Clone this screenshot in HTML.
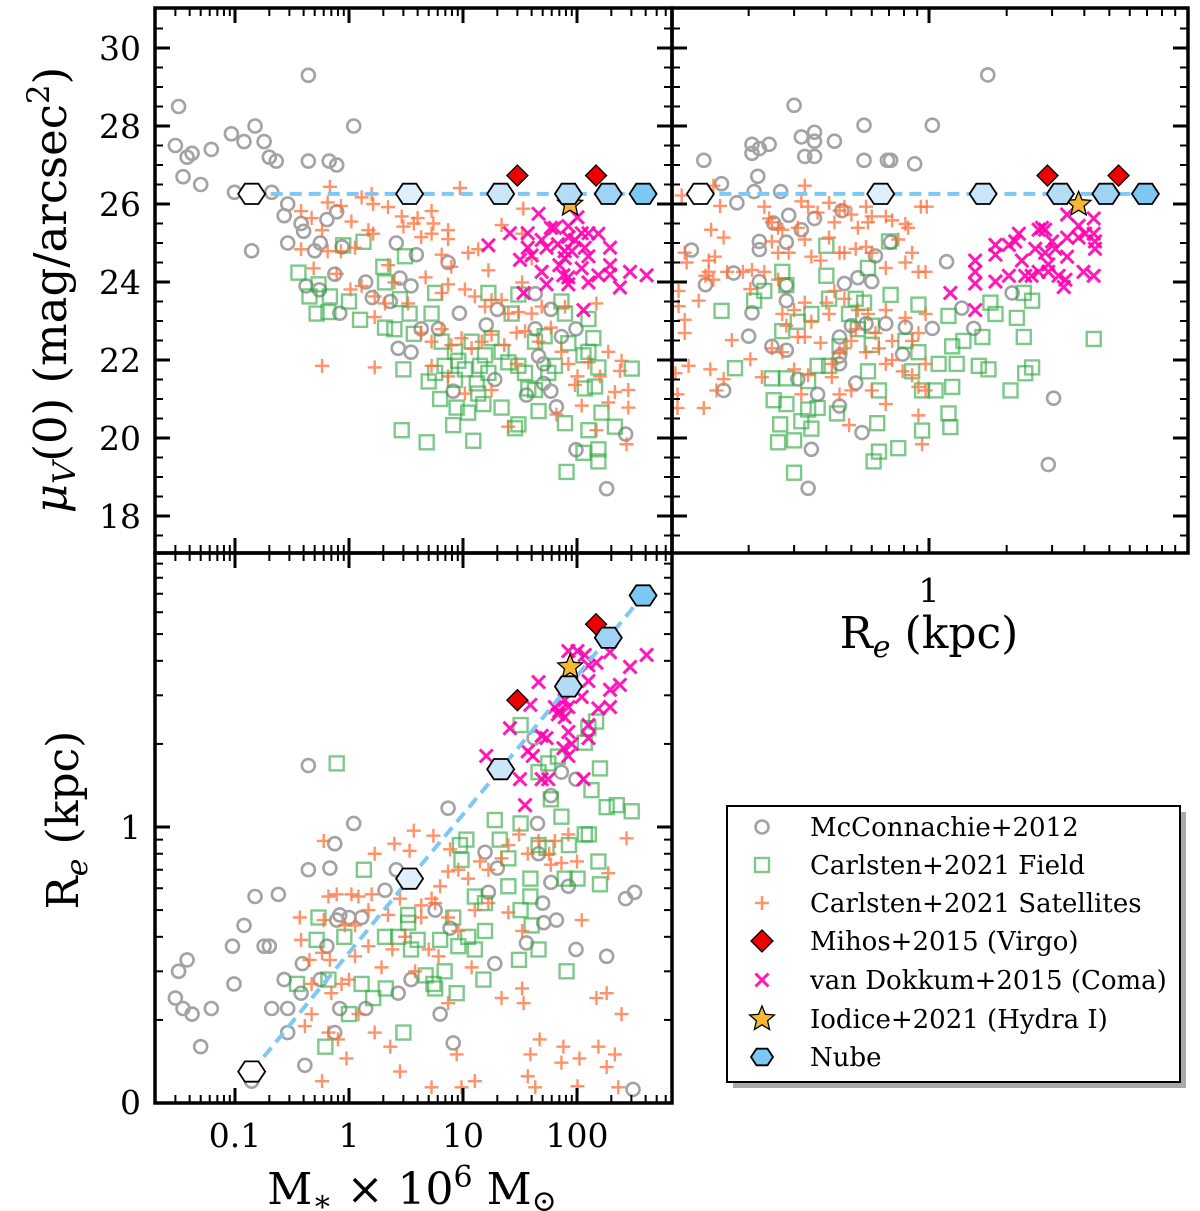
<!DOCTYPE html>
<html><head><meta charset="utf-8"><style>
html,body{margin:0;padding:0;background:#fff;}
svg{display:block;font-family:"DejaVu Serif","Liberation Serif",serif;}
</style></head><body>
<svg id="fig" width="1200" height="1211" viewBox="0 0 1200 1211" xmlns="http://www.w3.org/2000/svg">
<defs>
<clipPath id="clipA"><rect x="155" y="8" width="517" height="545"/></clipPath>
<clipPath id="clipB"><rect x="672" y="8" width="516" height="545"/></clipPath>
<clipPath id="clipC"><rect x="155" y="553" width="517" height="550"/></clipPath>
</defs>
<rect x="0" y="0" width="1200" height="1211" fill="#fff"/>
<g id="gA" clip-path="url(#clipA)"></g>
<g id="gB" clip-path="url(#clipB)"></g>
<g id="gC" clip-path="url(#clipC)"></g>
<g id="ticks"></g>
<g id="labels" font-size="33" fill="#000"></g>
<rect x="155" y="8" width="517" height="545" fill="none" stroke="#000" stroke-width="3.5"/>
<rect x="672" y="8" width="516" height="545" fill="none" stroke="#000" stroke-width="3.5"/>
<rect x="155" y="553" width="517" height="550" fill="none" stroke="#000" stroke-width="3.5"/>
<text transform="translate(66,290) rotate(-90)" text-anchor="middle" font-size="45"><tspan font-style="italic">μ</tspan><tspan font-style="italic" font-size="31" dy="9">V</tspan><tspan dy="-9">(0) (mag/arcsec</tspan><tspan font-size="31" dy="-17">2</tspan><tspan dy="17">)</tspan></text>
<text transform="translate(78,820) rotate(-90)" text-anchor="middle" font-size="44">R<tspan font-style="italic" font-size="30" dy="9">e</tspan><tspan dy="-9"> (kpc)</tspan></text>
<text x="929" y="648" text-anchor="middle" font-size="44">R<tspan font-style="italic" font-size="30" dy="9">e</tspan><tspan dy="-9"> (kpc)</tspan></text>
<text x="412" y="1204" text-anchor="middle" font-size="44">M<tspan font-size="30" dy="7">∗</tspan><tspan dy="-7"> × 10</tspan><tspan font-size="30" dy="-17">6</tspan><tspan dy="17"> M</tspan><tspan font-size="30" dy="7">⊙</tspan></text>
<g id="legend">
<rect x="733" y="812" width="453" height="276" fill="#aaa"/>
<rect x="727" y="806" width="453" height="276" fill="#fff" stroke="#000" stroke-width="2"/>
<g font-size="26">
<text x="810" y="836">McConnachie+2012</text>
<text x="810" y="874">Carlsten+2021 Field</text>
<text x="810" y="912">Carlsten+2021 Satellites</text>
<text x="810" y="950">Mihos+2015 (Virgo)</text>
<text x="810" y="989">van Dokkum+2015 (Coma)</text>
<text x="810" y="1028">Iodice+2021 (Hydra I)</text>
<text x="810" y="1066">Nube</text>
</g>
<g id="legMarks"></g>
</g>
</svg>
<script>
// ===== DATA =====
// Panel A: stellar mass (1e6 Msun) vs mu_V(0)
const mccMassA=[0.44,0.032,0.15,1.1,0.030,0.093,0.12,0.18,0.038,0.042,0.062,0.20,0.23,0.44,0.67,0.78,0.035,0.050,0.099,0.21,0.29,0.27,0.78,0.38,0.40,0.64,0.29,0.14,0.56,0.50,0.87,2.6,3.9,7.4,0.75,0.42,0.55,1.4,2.8,3.5,1.6,2.3,0.83,9.3,16,20,43,59,98,43,4.3,6.1,2.7,3.5,46,51,73,19,8.2,36,51,59,66,98,267,182];
const mccMuA=[29.3,28.5,28.0,28.0,27.5,27.8,27.6,27.6,27.2,27.3,27.4,27.2,27.1,27.1,27.1,27.0,26.7,26.5,26.3,26.3,26.0,25.7,25.8,25.5,25.3,25.6,25.0,24.8,25.0,24.8,24.9,25.0,24.7,24.5,24.2,23.9,23.8,24.0,24.1,23.9,23.6,23.5,23.2,23.2,22.9,23.3,23.7,23.3,22.8,22.8,22.8,22.8,22.3,22.2,22.1,21.9,22.6,21.5,21.2,21.1,21.4,21.2,20.8,19.7,20.1,18.7];
const fieldMassA=[0.36,0.54,0.45,0.68,0.52,0.66,1.0,1.25,0.89,1.34,2.0,3.1,2.07,2.07,2.5,2.8,3.4,3.7,3.0,2.9,4.8,6.3,8.2,8.8,11.1,12.3,15.1,21.8,30.6,28.6,5.0,5.7,6.9,8.5,9.1,10.4,13.2,14.1,15.6,16.7,21.8,25,30.6,35,37.4,42.8,46,56,64,78.5,81,114,126,154,154,164,215,302,117,126,139,154,126,73,78.5,5.7,5.3,6.5,8.5,11.9,17.8,26.7,42.8,52,84,114,144,30.6,16.7,13.6];
const fieldMuA=[24.24,23.94,23.63,23.63,23.19,23.23,23.5,23.03,24.94,25.03,24.39,24.66,23.99,22.83,22.79,23.56,23.19,22.67,21.76,20.2,19.89,21.0,20.33,20.78,20.65,19.93,20.87,20.78,20.35,20.25,21.45,21.67,21.85,21.49,21.98,21.76,21.4,21.85,22.12,23.72,22.21,21.94,23.68,21.67,21.27,21.23,20.69,21.67,21.85,20.38,19.13,19.62,20.2,19.71,19.4,20.65,20.29,21.78,21.27,22.21,22.56,21.81,23.05,23.5,23.19,23.72,23.19,22.47,22.21,22.47,22.56,23.19,22.47,22.61,22.43,22.12,21.32,21.85,21.67,21.14];
const satMassA=[0.68,1.58,9.4,0.38,0.47,0.58,0.65,0.85,1.05,1.29,1.63,2.2,2.9,4.0,5.3,5.5,7.4,7.4,0.38,0.49,0.65,0.85,1.13,1.48,1.63,2.2,3.0,3.7,4.3,5.3,6.5,7.9,11.1,13.6,16.7,21.8,33.8,33,40,33,0.78,1.03,1.29,1.68,2.07,2.5,3.3,4.7,6.5,7.4,10.4,12.7,15.6,17.8,21.8,25,30.6,40,49,78.5,148,1.68,0.58,1.68,4.3,5.3,6.5,7.9,9.7,11.9,14.6,17.8,23,29.5,35,46,59,73,84,101,126,159,188,246,238,215,282,282,188,110,66,25,5.3,7.4,10.4,17.8,29.5,148,272,96];
const satMuA=[26.44,26.26,26.41,25.82,25.64,25.33,26.04,25.95,25.55,26.17,26.0,25.92,25.68,25.64,25.82,25.5,25.33,25.1,24.84,24.35,24.79,24.79,24.88,25.33,25.24,24.43,25.42,25.5,25.15,25.24,24.7,24.39,24.75,24.84,24.3,25.46,25.88,25.24,24.61,23.99,24.21,23.81,23.9,23.63,23.45,23.99,23.45,24.12,23.72,23.94,23.81,23.63,23.37,23.54,23.54,23.19,23.23,23.19,23.37,23.37,23.45,23.1,21.85,21.81,22.7,22.47,22.79,22.38,22.56,22.3,22.47,22.65,22.38,22.7,22.74,22.47,22.83,22.21,21.9,21.58,21.94,21.58,22.21,21.98,21.72,21.18,21.23,20.78,20.91,20.83,20.6,20.29,21.85,21.58,21.14,21.23,21.9,20.2,19.84,21.36];
const comaMassA=[16.7,25.8,37,46,59,64,84,101,110,126,154,195,37,31.6,40,49,54,68,84,96,117,126,49,54,70,78,84,84,110,126,154,195,195,238,292,408,76,114,34,90,78];
const comaMuA=[24.94,25.25,25.25,25.75,25.39,25.39,25.43,25.66,25.25,25.25,25.24,24.88,24.88,24.57,24.68,25.08,24.88,24.97,25.15,25.08,24.88,24.66,24.26,23.94,24.43,24.61,24.12,23.94,24.35,23.99,24.17,24.43,24.19,23.86,24.26,24.17,24.17,23.28,23.72,24.79,24.79];
// Panel B: effective radius (kpc) vs mu_V(0)
const mccReB=[1.69,0.30,0.56,1.03,0.32,0.36,0.36,0.43,0.206,0.22,0.24,0.206,0.33,0.36,0.56,0.69,0.71,0.88,0.134,0.217,0.157,0.21,0.266,0.18,0.286,0.36,0.25,0.46,0.32,0.22,0.28,0.71,0.12,0.22,0.62,1.17,0.175,0.136,0.22,0.28,0.53,0.47,0.60,2.1,1.34,1.03,1.49,0.206,0.28,0.20,0.246,0.28,0.45,0.79,0.45,0.50,0.57,0.68,0.31,0.37,0.52,0.16,0.45,0.55,0.35,0.34,3.04,2.9,0.45,0.81];
const mccMuB=[29.31,28.53,28.02,28.02,27.72,27.84,27.61,27.61,27.53,27.42,27.53,27.3,27.22,27.22,27.12,27.12,27.12,27.03,27.12,26.71,26.52,26.32,26.32,26.03,25.71,25.63,25.51,25.83,25.34,25.04,25.02,25.02,24.82,24.83,24.67,24.52,24.23,23.93,24.01,23.92,24.11,23.96,24.01,23.72,23.33,22.81,22.81,23.21,23.52,22.61,22.35,22.25,22.59,22.15,21.9,22.88,22.93,22.93,21.51,21.12,21.41,21.22,20.82,20.14,19.71,18.71,21.02,19.32,22.1,22.84];
const fieldReB=[0.157,0.177,0.21,0.23,0.27,0.28,0.40,0.40,0.41,0.35,0.31,0.27,0.246,0.28,0.25,0.28,0.265,0.26,0.30,0.30,0.32,0.35,0.34,0.37,0.34,0.37,0.41,0.44,0.45,0.49,0.53,0.56,0.60,0.60,0.58,0.64,0.63,0.64,0.61,0.76,0.86,0.91,0.81,0.91,0.94,1.06,0.94,1.09,1.19,1.23,1.23,1.19,1.21,1.28,1.36,1.56,1.61,1.70,1.73,1.81,2.07,2.19,2.33,2.51,2.33,2.36,2.51,4.35,0.70,0.71,0.58,0.52];
const fieldMuB=[23.26,21.79,23.52,23.77,24.26,23.92,24.93,24.16,23.57,23.18,22.98,22.74,21.53,21.53,20.97,20.87,20.35,19.89,19.94,19.11,20.43,20.24,20.73,20.77,21.46,21.85,21.85,20.63,22.35,23.18,22.79,23.47,22.88,22.39,21.71,21.22,20.38,19.65,19.4,19.74,21.71,23.42,22.49,22.2,21.22,21.22,20.19,21.9,23.13,22.35,21.31,20.63,20.28,21.9,22.49,21.85,22.59,21.76,23.47,23.18,21.22,23.08,23.72,23.52,22.59,21.66,21.81,22.54,25.04,23.67,24.36,23.57];
const satReB=[0.11,0.146,0.155,0.143,0.16,0.113,0.14,0.148,0.115,0.14,0.165,0.146,0.136,0.107,0.128,0.107,0.113,0.113,0.104,0.117,0.142,0.16,0.15,0.134,0.106,0.106,0.172,0.203,0.206,0.225,0.23,0.24,0.246,0.26,0.27,0.31,0.33,0.32,0.34,0.37,0.41,0.43,0.45,0.47,0.50,0.53,0.57,0.58,0.60,0.68,0.72,0.81,0.83,0.93,0.98,0.246,0.26,0.286,0.33,0.35,0.38,0.41,0.45,0.47,0.52,0.57,0.60,0.68,0.76,0.81,0.86,0.91,0.97,0.19,0.203,0.23,0.26,0.27,0.30,0.33,0.35,0.40,0.41,0.43,0.47,0.52,0.53,0.58,0.62,0.68,0.72,0.81,0.86,0.91,0.97,0.246,0.28,0.31,0.33,0.38,0.42,0.45,0.47,0.50,0.57,0.64,0.68,0.72,0.79,0.86,0.97,0.30,0.34,0.42,0.50,0.60,0.68,0.91,0.97,0.32,0.45,0.49,0.91,0.94,0.27];
const satMuB=[26.22,26.47,25.95,25.34,25.14,24.75,24.55,24.65,24.5,24.26,24.26,24.06,24.16,23.77,23.52,23.38,23.03,22.69,21.66,21.85,21.76,21.51,21.22,20.77,21.12,20.77,22.51,22.02,24.31,21.56,25.93,25.63,25.53,25.39,25.34,25.39,26.47,26.07,25.93,25.78,26.03,25.53,25.83,25.93,25.73,25.39,25.93,25.53,25.68,25.68,25.58,25.49,25.39,25.93,25.93,25.04,24.75,24.75,25.09,24.65,24.55,25.14,24.75,24.75,24.85,24.9,24.75,24.36,25.09,24.5,24.75,24.26,24.26,24.26,23.82,24.26,24.06,23.18,23.28,23.47,22.98,23.47,23.18,23.77,23.57,22.79,23.28,23.18,22.69,23.28,22.49,23.08,22.49,22.69,23.18,22.3,22.88,22.59,22.59,22.44,21.9,22.2,22.3,22.49,22.2,22.3,21.9,22.0,21.71,21.61,21.9,21.76,21.61,21.56,21.22,21.22,20.87,21.31,21.22,21.12,21.12,20.33,20.58,19.84,22.2];
const comaReB=[1.21,1.51,1.51,1.51,1.51,1.81,1.81,1.81,2.04,2.04,2.23,2.16,2.29,2.36,2.58,2.66,2.74,2.82,2.82,2.9,3.0,3.09,3.18,3.33,3.43,3.43,3.43,3.8,3.8,3.97,4.03,4.35,4.35,4.4,4.4,4.35,2.66,2.9,3.38,2.5];
const comaMuB=[23.72,24.55,24.26,23.96,23.28,24.95,24.7,24.01,24.16,24.95,25.24,25.04,24.55,24.16,24.85,25.34,25.39,25.34,24.75,24.45,25.04,24.85,24.16,23.87,25.73,25.14,24.65,25.44,25.14,24.26,25.24,25.63,25.24,25.04,24.85,24.16,24.26,24.26,24.06,24.16];
// Panel C: stellar mass (1e6 Msun) vs effective radius (kpc)
const mccMassC=[0.44,1.1,7.4,0.75,0.44,0.68,2.6,0.15,0.24,0.12,0.095,0.18,0.20,0.038,0.032,0.098,0.030,0.035,0.042,0.062,0.050,0.21,0.29,0.27,0.39,0.38,0.56,0.64,0.83,1.0,1.29,0.78,0.83,0.75,1.4,0.41,0.29,2.07,2.7,3.5,5.7,6.3,7.7,8.2,15.6,16.7,20,19,45,46,50,51,36,59,66,84,98,98,59,73,42,267,320,182,310,0.14];
const mccReC=[1.67,1.03,1.17,0.87,0.70,0.71,0.70,0.56,0.57,0.44,0.37,0.37,0.37,0.33,0.30,0.27,0.24,0.22,0.21,0.22,0.16,0.22,0.22,0.28,0.32,0.25,0.28,0.37,0.48,0.47,0.47,0.46,0.22,0.18,0.22,0.137,0.18,0.59,0.25,0.28,0.50,0.21,0.43,0.165,0.81,0.58,0.71,0.32,1.03,0.80,0.53,0.45,0.38,0.63,0.46,0.61,0.36,1.49,1.30,1.58,2.1,0.55,0.58,0.34,0.112,0.12];
const fieldMassC=[0.78,1.35,0.54,0.52,0.35,0.62,1.0,0.66,0.91,1.29,1.63,2.07,2.1,2.7,3.0,3.5,4.0,3.3,3.3,4.7,5.5,5.7,6.3,6.9,8.2,8.8,9.1,11.1,12.7,15.1,15.6,12.7,9.7,10.7,9.4,15.6,19,21,25,25,32,31,32,39,39,46,40,46,54,46,59,73,81,85,78,101,117,127,154,159,134,159,182,223,302,126,32,117,147,56,68];
const fieldReC=[1.70,0.70,0.47,0.39,0.27,0.16,0.21,0.28,0.40,0.27,0.24,0.40,0.26,0.40,0.18,0.36,0.39,0.48,0.45,0.29,0.27,0.26,0.39,0.30,0.47,0.25,0.37,0.40,0.36,0.28,0.42,0.56,0.76,0.90,0.86,0.53,1.06,0.90,0.77,0.61,1.03,0.33,0.50,0.65,0.56,0.36,0.44,0.86,0.84,1.58,1.26,1.09,0.30,0.86,0.65,0.65,0.94,0.94,0.75,0.62,1.36,1.63,1.18,1.20,1.14,2.28,2.34,2.02,2.41,1.70,1.80];
const satMassC=[0.6,1.68,2.5,3.7,5.5,3.4,7.7,0.66,0.78,1.05,1.21,1.58,0.37,0.38,0.45,0.58,0.68,0.6,0.92,1.13,1.48,2.2,2.8,4.3,5.3,6.3,7.4,9.1,11.1,14.1,16.7,21.8,25,31,37,46,57,64,84,59,73,100,188,272,110,33,25,16.7,12.7,9.1,7.4,5.7,4.3,3.1,2.4,1.93,1.48,1.13,1.0,0.86,0.7,0.47,0.41,0.47,0.66,0.8,0.95,1.21,1.68,2.3,2.8,3.8,5.0,6.1,7.4,8.8,9.7,12.7,21.8,33,34,39,37,43,47,76,73,101,105,148,182,154,215,182,246,230,0.58,5.3,11.9];
const satReC=[0.89,0.80,0.87,0.97,0.93,0.82,0.83,0.56,0.57,0.57,0.56,0.57,0.47,0.39,0.33,0.35,0.33,0.46,0.44,0.44,0.50,0.48,0.55,0.52,0.55,0.61,0.69,0.70,0.65,0.75,0.70,0.77,0.86,0.94,0.80,0.89,0.80,0.89,0.94,0.73,0.74,0.75,0.68,0.91,0.46,0.42,0.49,0.53,0.50,0.42,0.47,0.53,0.47,0.40,0.36,0.31,0.37,0.34,0.28,0.27,0.25,0.27,0.19,0.21,0.18,0.17,0.145,0.21,0.18,0.16,0.13,0.30,0.36,0.34,0.23,0.15,0.114,0.12,0.24,0.26,0.23,0.15,0.125,0.114,0.17,0.16,0.14,0.115,0.145,0.24,0.25,0.16,0.15,0.135,0.21,0.114,0.12,0.114,0.31];
const comaMassC=[16,25.8,35,31.6,37,41,46,39,49,54,49,56,64,68,78,84,101,117,126,84,84,84,90,110,126,126,126,114,148,154,195,195,195,238,292,408,76,78,70];
const comaReC=[1.81,2.28,1.20,1.49,1.88,1.81,3.35,2.77,2.14,2.1,1.49,1.49,2.72,2.56,2.5,4.34,4.34,4.2,3.85,2.72,2.21,1.81,2.0,2.96,3.38,2.34,2.1,1.49,3.94,2.69,4.3,2.72,3.14,3.27,3.8,4.2,1.93,2.88,2.63];
// Literature single objects
const mihosMass=[30,147];
const mihosRe=[2.88,5.43];
const mihosMu=[26.73,26.73];
const iodiceMass=[87];
const iodiceRe=[3.8];
const iodiceMu=[25.99];
// Nube models
const nubeMass=[0.14,3.4,21.4,84,188,380];
const nubeRe=[0.13,0.65,1.62,3.23,4.85,6.9];
const nubeMu=[26.26,26.26,26.26,26.26,26.26,26.26];
// Tick labels
const muTickLabels=[18,20,22,24,26,28,30];
const massTickLabels=[0.1,1,10,100];
const reTickLabelsB=[1];

// ===== AXES =====
const NS='http://www.w3.org/2000/svg';
const xMass=v=>235+(Math.log10(v)+1)*114;
const xRe=v=>929+Math.log10(v)*258;
const yMu=v=>48+(30-v)*39;
const yRe=v=>827-Math.log10(v)*276;

function mk(tag,parent,name){
  const el=document.createElementNS(NS,tag);
  
  
  parent.appendChild(el);
  return el;
}
function circ(g,x,y){const e=mk('circle',g,'mcconnachie-point');e.setAttribute('cx',x);e.setAttribute('cy',y);e.setAttribute('r',6.5);e.setAttribute('fill','none');e.setAttribute('stroke','#a3a3a3');e.setAttribute('stroke-width',2.6);}
function sq(g,x,y){const e=mk('rect',g,'carlsten-field-point');e.setAttribute('x',x-7);e.setAttribute('y',y-7);e.setAttribute('width',14);e.setAttribute('height',14);e.setAttribute('fill','none');e.setAttribute('stroke','rgba(40,165,60,0.6)');e.setAttribute('stroke-width',2.4);}
function plus(g,x,y){const e=mk('path',g,'carlsten-satellite-point');e.setAttribute('d',`M${x-7} ${y}H${x+7}M${x} ${y-7}V${y+7}`);e.setAttribute('stroke','rgba(255,110,55,0.75)');e.setAttribute('stroke-width',2.4);}
function cross(g,x,y){const e=mk('path',g,'vandokkum-point');e.setAttribute('d',`M${x-6.5} ${y-6.5}L${x+6.5} ${y+6.5}M${x-6.5} ${y+6.5}L${x+6.5} ${y-6.5}`);e.setAttribute('stroke','rgba(255,0,175,0.9)');e.setAttribute('stroke-width',3);}
function diamond(g,x,y,s){s=s||10.5;const e=mk('polygon',g,'mihos-point');e.setAttribute('points',`${x},${y-s} ${x+s},${y} ${x},${y+s} ${x-s},${y}`);e.setAttribute('fill','#ee0000');e.setAttribute('stroke','#000');e.setAttribute('stroke-width',1.3);}
function star(g,x,y,R){R=R||13;let p=[];for(let i=0;i<10;i++){const r=i%2?R*0.45:R;const a=-Math.PI/2+i*Math.PI/5;p.push((x+r*Math.cos(a)).toFixed(1)+','+(y+r*Math.sin(a)).toFixed(1));}const e=mk('polygon',g,'iodice-point');e.setAttribute('points',p.join(' '));e.setAttribute('fill','#f7b731');e.setAttribute('stroke','#000');e.setAttribute('stroke-width',1.3);}
function hex(g,x,y,fill,r){r=r||13.5;let p=[];for(let i=0;i<6;i++){const a=i*Math.PI/3;p.push((x+r*Math.cos(a)).toFixed(1)+','+(y+r*0.87*Math.sin(a)).toFixed(1));}const e=mk('polygon',g,'nube-point');e.setAttribute('points',p.join(' '));e.setAttribute('fill',fill);e.setAttribute('stroke','#000');e.setAttribute('stroke-width',1.8);}
const nubeFill=['#ffffff','#dff0fc','#cbe6f8','#b5dcf5','#9fd2f3','#7cc8f3'];

function drawPanel(g,fx,fy,s){
  s.mccX.forEach((v,i)=>circ(g,fx(v),fy(s.mccY[i])));
  s.fX.forEach((v,i)=>sq(g,fx(v),fy(s.fY[i])));
  s.sX.forEach((v,i)=>plus(g,fx(v),fy(s.sY[i])));
  s.cX.forEach((v,i)=>cross(g,fx(v),fy(s.cY[i])));
  const ln=mk('polyline',g,'nube-dashed-line');
  ln.setAttribute('points',s.nX.map((v,i)=>fx(v).toFixed(1)+','+fy(s.nY[i]).toFixed(1)).join(' '));
  ln.setAttribute('fill','none');ln.setAttribute('stroke','#7ec8f5');ln.setAttribute('stroke-width',4);ln.setAttribute('stroke-dasharray','12 7');
  s.mX.forEach((v,i)=>diamond(g,fx(v),fy(s.mY[i])));
  s.iX.forEach((v,i)=>star(g,fx(v),fy(s.iY[i])));
  s.nX.forEach((v,i)=>hex(g,fx(v),fy(s.nY[i]),nubeFill[i]));
}
drawPanel(document.getElementById('gA'),xMass,yMu,{mccX:mccMassA,mccY:mccMuA,fX:fieldMassA,fY:fieldMuA,sX:satMassA,sY:satMuA,cX:comaMassA,cY:comaMuA,mX:mihosMass,mY:mihosMu,iX:iodiceMass,iY:iodiceMu,nX:nubeMass,nY:nubeMu});
drawPanel(document.getElementById('gB'),xRe,yMu,{mccX:mccReB,mccY:mccMuB,fX:fieldReB,fY:fieldMuB,sX:satReB,sY:satMuB,cX:comaReB,cY:comaMuB,mX:mihosRe,mY:mihosMu,iX:iodiceRe,iY:iodiceMu,nX:nubeRe,nY:nubeMu});
drawPanel(document.getElementById('gC'),xMass,yRe,{mccX:mccMassC,mccY:mccReC,fX:fieldMassC,fY:fieldReC,sX:satMassC,sY:satReC,cX:comaMassC,cY:comaReC,mX:mihosMass,mY:mihosRe,iX:iodiceMass,iY:iodiceRe,nX:nubeMass,nY:nubeRe});

// ===== TICKS =====
const tg=document.getElementById('ticks');
function tick(x1,y1,x2,y2,w){const e=mk('line',tg,'tick-mark');e.setAttribute('x1',x1);e.setAttribute('y1',y1);e.setAttribute('x2',x2);e.setAttribute('y2',y2);e.setAttribute('stroke','#000');e.setAttribute('stroke-width',w);}
function logVals(lo,hi){const out=[];for(let k=-3;k<=3;k++)for(let j=1;j<=9;j++){const v=j*Math.pow(10,k);if(v>=lo&&v<=hi)out.push([v,j===1]);}return out;}
const MAJ=15,MIN=8,MAJW=3,MINW=2;
logVals(0.02,690).forEach(([v,maj])=>{const x=xMass(v);if(x<157||x>670)return;const L=maj?MAJ:MIN;const w=maj?MAJW:MINW;
  [[8,1],[553,-1],[553,1],[1103,-1]].forEach(([y,d])=>tick(x,y,x,y+d*L,w));});
logVals(0.1,10).forEach(([v,maj])=>{const x=xRe(v);if(x<674||x>1186)return;const L=maj?MAJ:MIN;const w=maj?MAJW:MINW;
  [[8,1],[553,-1]].forEach(([y,d])=>tick(x,y,x,y+d*L,w));});
for(let m=17.5;m<=31;m+=0.5){const y=yMu(m);if(y<10||y>551)continue;const maj=(m%2===0);const L=maj?MAJ:MIN;const w=maj?MAJW:MINW;
  [[155,1],[672,-1],[672,1],[1188,-1]].forEach(([x,d])=>tick(x,y,x+d*L,y,w));}
logVals(0.1,9.9).forEach(([v,maj])=>{const y=yRe(v);if(y<555||y>1101)return;const L=maj?MAJ:MIN;const w=maj?MAJW:MINW;
  [[155,1],[672,-1]].forEach(([x,d])=>tick(x,y,x+d*L,y,w));});

// ===== TICK LABELS =====
const lg=document.getElementById('labels');
function lab(txt,x,y,anchor,name){const e=mk('text',lg,name);e.setAttribute('x',x);e.setAttribute('y',y);e.setAttribute('text-anchor',anchor);e.textContent=txt;}
muTickLabels.forEach(v=>lab(String(v),141,yMu(v)+12,'end','y-tick-label-mu'));
massTickLabels.forEach(v=>lab(String(v),xMass(v),1147,'middle','x-tick-label-mass'));
reTickLabelsB.forEach(v=>lab(String(v),xRe(v),602,'middle','x-tick-label-re'));
lab('1',141,yRe(1)+12,'end','y-tick-label-re');
lab('0',141,1114,'end','y-tick-label-re');

// ===== LEGEND MARKERS =====
const lm=document.getElementById('legMarks');
circ(lm,762,827);
sq(lm,762,865);
plus(lm,762,903);
diamond(lm,762,941,11);
cross(lm,762,980);
star(lm,762,1019,13);
hex(lm,762,1057,'#7cc8f3',11);
</script>
</body></html>
